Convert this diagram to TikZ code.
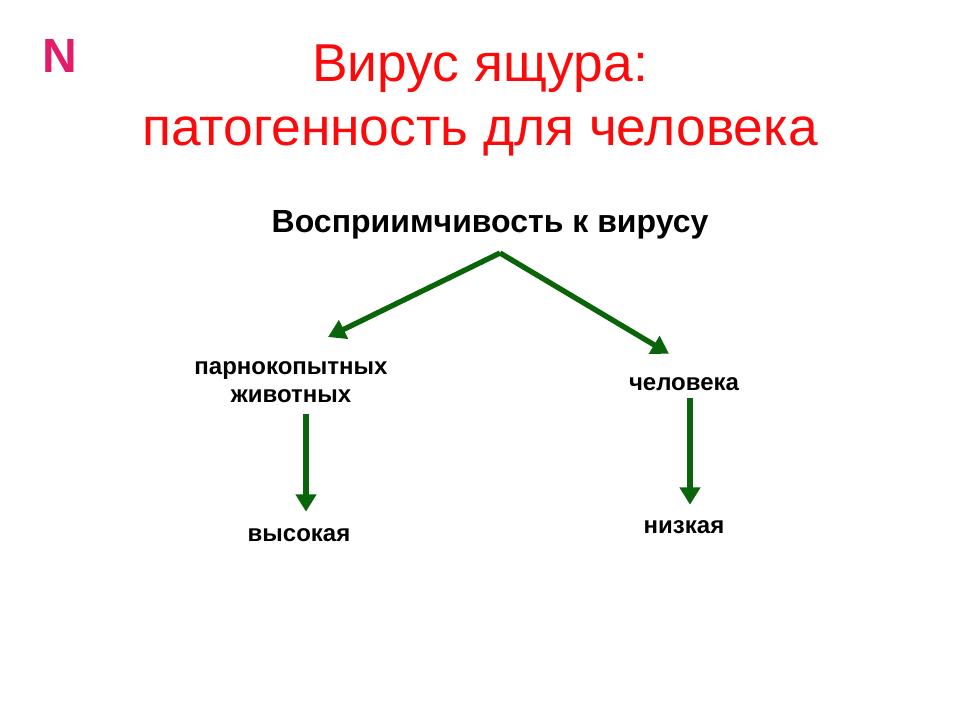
\documentclass[tikz,border=0pt]{standalone}
\usepackage{fontspec}
\setmainfont{Liberation Sans}
\usepackage{xcolor}
\usetikzlibrary{arrows.meta,calc,positioning}
\definecolor{titlered}{RGB}{250,10,10}
\definecolor{markpink}{RGB}{226,28,105}
\definecolor{arrowgreen}{RGB}{10,100,10}
\tikzset{%
	cornerletter/.style = {font=\fontsize{36}{40}\selectfont\bfseries, text=markpink}, % corner letter
	heading/.style  = {align=center, text=titlered, font=\fontsize{40}{48}\selectfont},
	topic/.style    = {font=\fontsize{24}{28}\selectfont\bfseries},
	label/.style    = {align=center, font=\fontsize{18}{20.5}\selectfont\bfseries},
	arrow/.style    = {draw=arrowgreen, line width=4pt, -{Triangle[length=13pt,width=15pt]}},
}

\begin{document}
\begin{tikzpicture}[x=0.75pt,y=-0.75pt]
	\useasboundingbox (0,0) rectangle (960,720);
	\node[cornerletter] (corner) at (60,56) {N};
	\node[heading] (title) at (480,100) {Вирус ящура:\\патогенность для человека};
	\node[topic] (top) at (490,225) {Восприимчивость к вирусу};
	\node[label] (left) at (291,382) {парнокопытных\\животных};
	\node[label] (right) at (684,384) {человека};
	\node[label] (lowleft) at (299,535) {высокая};
	\node[label] (lowright) at (684,527) {низкая};
	\coordinate (peak) at (500,253);
	\draw[arrow] (peak) -- ($(left.north)+(37,-20)$);
	\draw[arrow] (peak) -- ($(right.north)+(-15,-19)$);
	\draw[arrow] ($(left.south)+(15,7)$) -- ($(lowleft.north)+(7,-12)$);
	\draw[arrow] ($(right.south)+(6,3)$) -- ($(lowright.north)+(6,-11)$);
\end{tikzpicture}
\end{document}
